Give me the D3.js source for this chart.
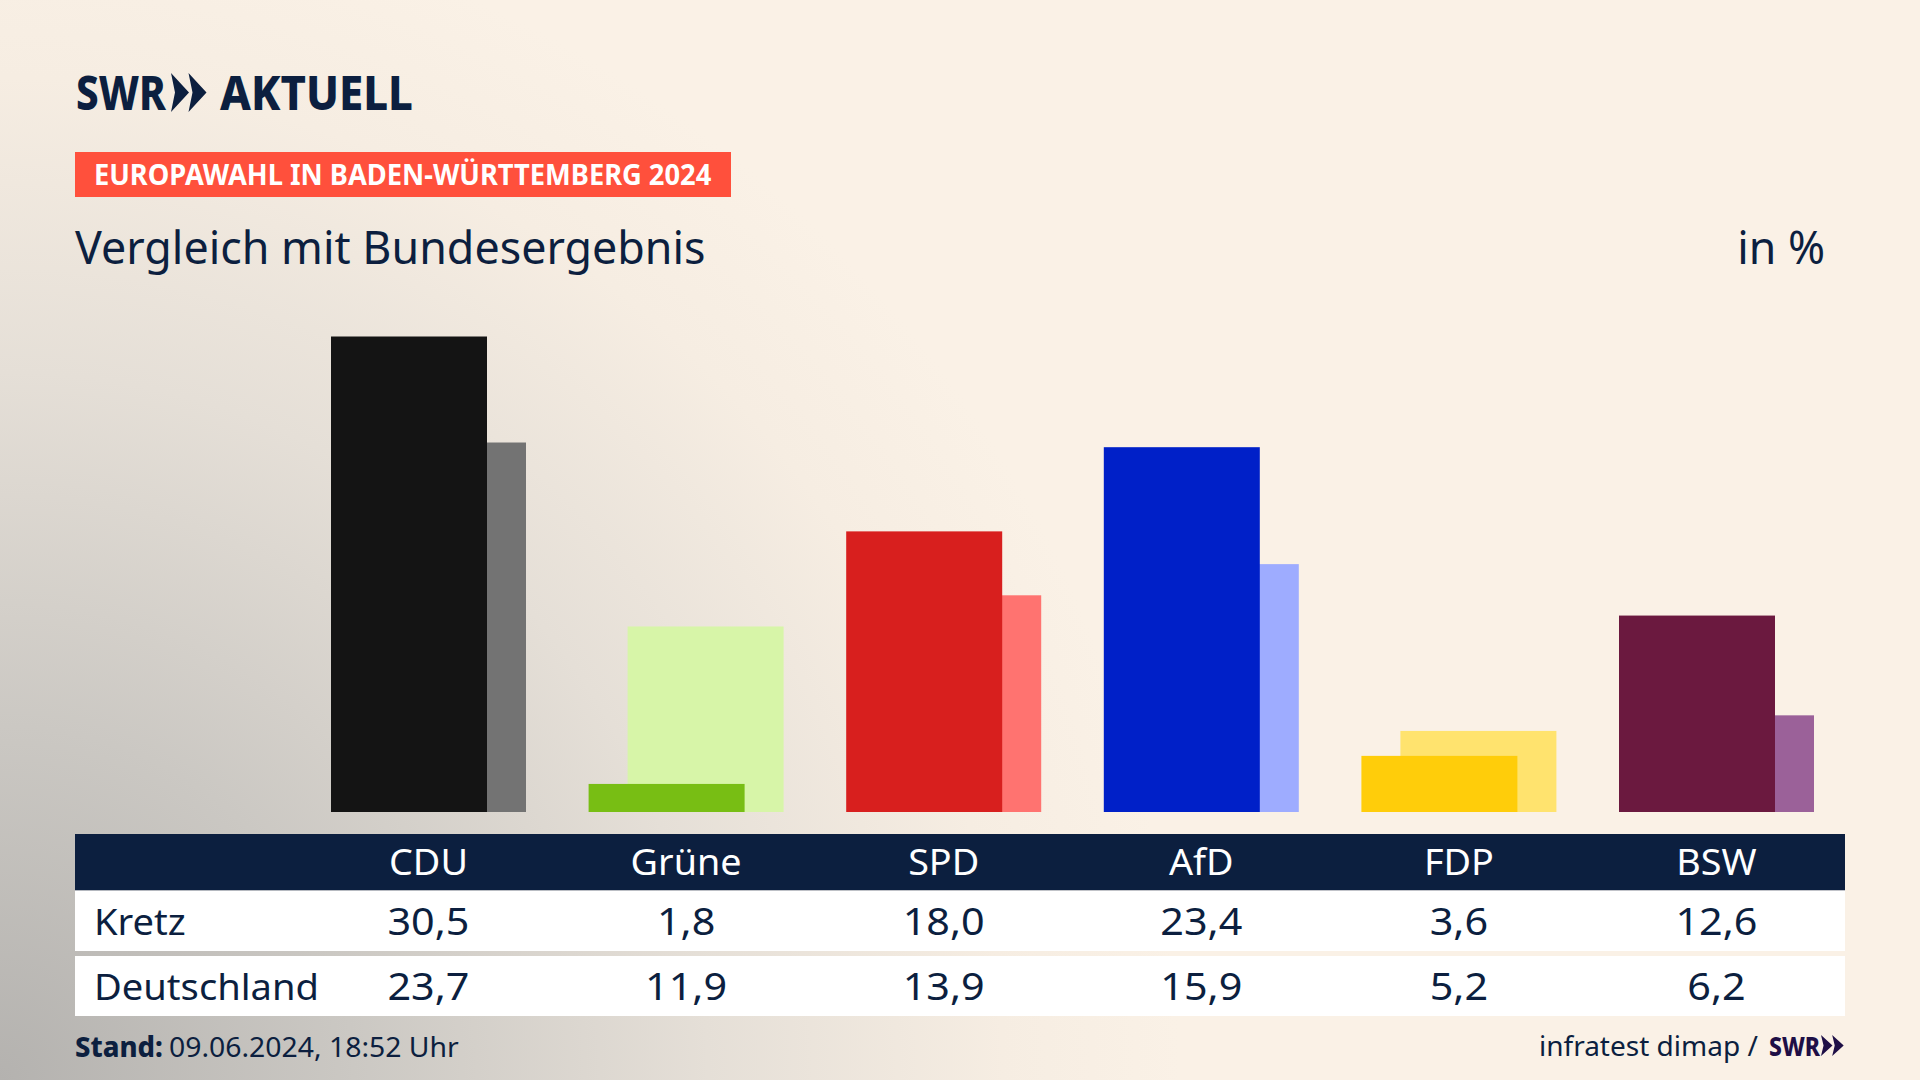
<!DOCTYPE html>
<html lang="de">
<head>
<meta charset="utf-8">
<title>Vergleich mit Bundesergebnis</title>
<script src="https://cdn.jsdelivr.net/npm/d3@7"></script>
<style>
  html, body { margin: 0; padding: 0; background: #faf1e6; }
  svg { display: block; }
  text { font-family: "Noto Sans", sans-serif; fill: #0c1f3f; }
</style>
</head>
<body>
<div id="chart"></div>
<script>
const parties = ['CDU', 'Grüne', 'SPD', 'AfD', 'FDP', 'BSW']
const kretz = [30.5, 1.8, 18.0, 23.4, 3.6, 12.6]
const deutschland = [23.7, 11.9, 13.9, 15.9, 5.2, 6.2]
const frontColors = ['#141414', '#78be14', '#d81f1e', '#0020c8', '#ffcd0a', '#6b193f']
const backColors = ['#737373', '#d7f5a8', '#ff7370', '#9eacff', '#ffe36e', '#9b6199']
const rowLabels = ['Kretz', 'Deutschland']

const width = 1920
const height = 1080
const baseline = 812
const barWidth = 156
const barOffset = 39
const NAVY = '#0c1f3f'

const svg = d3.select('#chart').append('svg')
  .attr('width', width)
  .attr('height', height)

// background: cream with grey glow out of the lower left corner
const defs = svg.append('defs')
const glow = defs.append('radialGradient')
  .attr('id', 'glow')
  .attr('gradientUnits', 'userSpaceOnUse')
  .attr('cx', 0).attr('cy', 1080).attr('r', 1180)
glow.selectAll('stop')
  .data([[0, '#b4b2af'], [0.3, '#cbc8c3'], [0.6, '#e5dfd7'], [0.85, '#f6ede2'], [1, '#faf1e6']])
  .enter().append('stop')
  .attr('offset', d => d[0])
  .attr('stop-color', d => d[1])
svg.append('rect').attr('width', width).attr('height', height).attr('fill', 'url(#glow)')

// narrows text by factor k, the house font is tighter than anything installed
const squeeze = (sel, k) => sel.each(function () {
  this.setAttribute('textLength', this.getComputedTextLength() * k)
  this.setAttribute('lengthAdjust', 'spacingAndGlyphs')
})

const chevrons = (x, y, w, h, color) => {
  const g = svg.append('g').attr('transform', `translate(${x},${y}) scale(${w / 36},${h / 38})`)
  ;[0, 17.5].forEach(dx => {
    g.append('path')
      .attr('d', `M${dx},0 L${dx + 18},19 L${dx},38 L${dx + 4},19 Z`)
      .attr('fill', color)
  })
}

// logo
svg.append('text').attr('x', 76).attr('y', 110)
  .attr('font-size', 48).attr('font-weight', 800).text('SWR').call(squeeze, 0.84)
chevrons(171, 73, 36, 39, NAVY)
svg.append('text').attr('x', 220).attr('y', 110)
  .attr('font-size', 48).attr('font-weight', 800).text('AKTUELL').call(squeeze, 0.91)

// tag and titles
svg.append('rect').attr('x', 75).attr('y', 152).attr('width', 656).attr('height', 45).attr('fill', '#ff503c')
svg.append('text').attr('x', 94).attr('y', 184.5)
  .attr('font-size', 29).attr('font-weight', 700).style('fill', '#fff')
  .text('EUROPAWAHL IN BADEN-WÜRTTEMBERG 2024').call(squeeze, 0.94)
svg.append('text').attr('x', 75).attr('y', 264)
  .attr('font-size', 46).text('Vergleich mit Bundesergebnis').call(squeeze, 0.974)
svg.append('text').attr('x', 1825).attr('y', 264).attr('text-anchor', 'end')
  .attr('font-size', 46).text('in %').call(squeeze, 0.97)

// scales
const x = d3.scalePoint()
  .domain(parties)
  .range([429, 1717])

const y = d3.scaleLinear()
  .domain([0, d3.max(kretz)])
  .range([baseline, 336.5])

const bars = parties.map((party, i) => ({party, front: kretz[i], back: deutschland[i], i}))

// Germany bars sit behind, shifted to the right
svg.append('g').selectAll('rect')
  .data(bars)
  .enter().append('rect')
  .attr('x', d => x(d.party) - barWidth / 2 - 20 + barOffset)
  .attr('y', d => y(d.back))
  .attr('width', barWidth)
  .attr('height', d => baseline - y(d.back))
  .attr('fill', d => backColors[d.i])

svg.append('g').selectAll('rect')
  .data(bars)
  .enter().append('rect')
  .attr('x', d => x(d.party) - barWidth / 2 - 20)
  .attr('y', d => y(d.front))
  .attr('width', barWidth)
  .attr('height', d => baseline - y(d.front))
  .attr('fill', d => frontColors[d.i])

// table
svg.append('rect').attr('x', 75).attr('y', 834).attr('width', 1770).attr('height', 56.5).attr('fill', NAVY)

const header = svg.append('g')
  .attr('transform', 'translate(-1,834)')
  .call(d3.axisBottom(x).tickSize(0).tickPadding(0))
header.select('.domain').remove()
header.selectAll('text')
  .attr('y', 41).attr('dy', 0)
  .attr('font-size', 37).attr('font-family', null)
  .style('fill', '#fff')
  .call(squeeze, 1.02)

const rows = [
  {label: rowLabels[0], values: kretz, top: 890.5, h: 60.5, base: 935},
  {label: rowLabels[1], values: deutschland, top: 956, h: 60, base: 1000},
]
const fmt = v => v.toFixed(1).replace('.', ',')

rows.forEach(row => {
  svg.append('rect').attr('x', 75).attr('y', row.top).attr('width', 1770).attr('height', row.h).attr('fill', '#fff')
  svg.append('text').attr('x', 94).attr('y', row.base)
    .attr('font-size', 37).text(row.label).call(squeeze, 1.03)
  svg.append('g').selectAll('text')
    .data(row.values)
    .enter().append('text')
    .attr('x', (d, i) => x(parties[i]) - 0.5)
    .attr('y', row.base)
    .attr('text-anchor', 'middle')
    .attr('font-size', 39)
    .text(fmt)
    .call(squeeze, 1.06)
})

// footer
svg.append('text').attr('x', 75).attr('y', 1056.5).attr('font-size', 28)
  .attr('font-weight', 800).text('Stand:').call(squeeze, 0.98)
svg.append('text').attr('x', 169).attr('y', 1056.5).attr('font-size', 28)
  .text('09.06.2024, 18:52 Uhr').call(squeeze, 1.013)

svg.append('text').attr('x', 1539).attr('y', 1055.5)
  .attr('font-size', 28).text('infratest dimap /').call(squeeze, 1.0)
svg.append('text').attr('x', 1769).attr('y', 1055.5)
  .attr('font-size', 26).attr('font-weight', 800).style('fill', '#1e0f46').text('SWR').call(squeeze, 0.88)
chevrons(1821, 1035, 23, 21, '#1e0f46')
</script>
</body>
</html>
